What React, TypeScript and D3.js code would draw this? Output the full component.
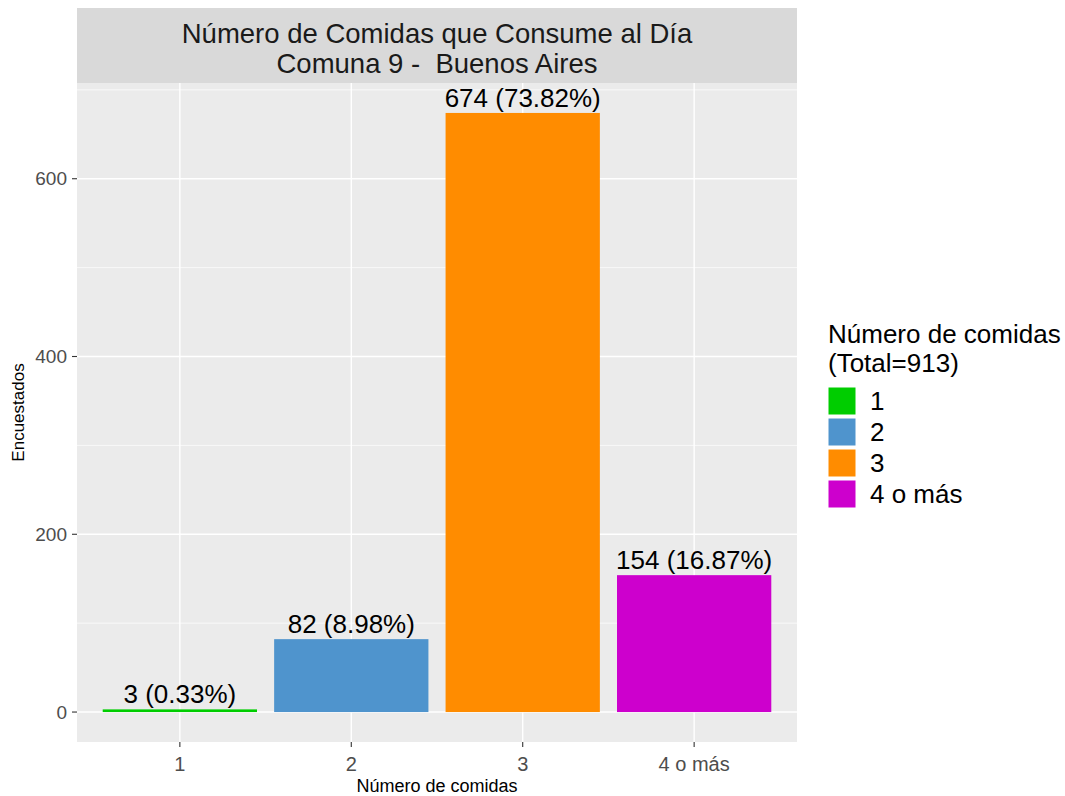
import React from "react";
import * as d3 from "d3";

const categories = ["1", "2", "3", "4 o más"];
const values = [3, 82, 674, 154];
const percents = ["0.33%", "8.98%", "73.82%", "16.87%"];
const colors = ["#00CD00", "#4F94CD", "#FF8C00", "#CD00CD"];
const yTicks = [0, 200, 400, 600];
const yMinor = [100, 300, 500, 700];
const total = 913;

const W = 1065, H = 796;
const panel = { left: 77, right: 797, top: 83, bottom: 742 };
const strip = { top: 8, bottom: 83 };
const font = "'Liberation Sans', Arial, sans-serif";

export default function App() {
  const maxV = d3.max(values) as number;
  const pad = maxV * 0.05;
  const y = d3.scaleLinear().domain([-pad, maxV + pad]).range([panel.bottom, panel.top]);
  const x = d3.scaleBand().domain(categories).range([panel.left, panel.right]).paddingInner(0.1).paddingOuter(0.15);
  const bw = x.bandwidth();
  const cx = (c: string) => (x(c) as number) + bw / 2;

  return (
    <svg width={W} height={H} style={{ position: "absolute", left: 0, top: 0, fontFamily: font }}>
      <rect x={0} y={0} width={W} height={H} fill="#ffffff" />
      {/* strip */}
      <rect x={panel.left} y={strip.top} width={panel.right - panel.left} height={strip.bottom - strip.top} fill="#D9D9D9" />
      <text x={(panel.left + panel.right) / 2} y={43} textAnchor="middle" fontSize={27.5} fill="#1A1A1A">Número de Comidas que Consume al Día</text>
      <text x={(panel.left + panel.right) / 2} y={73} textAnchor="middle" fontSize={27.5} fill="#1A1A1A" style={{ whiteSpace: "pre" }}>Comuna 9 -  Buenos Aires</text>
      {/* panel */}
      <rect x={panel.left} y={panel.top} width={panel.right - panel.left} height={panel.bottom - panel.top} fill="#EBEBEB" />
      {yMinor.map((t) => (
        <line key={"mn" + t} x1={panel.left} x2={panel.right} y1={y(t)} y2={y(t)} stroke="#ffffff" strokeWidth={0.7} />
      ))}
      {yTicks.map((t) => (
        <line key={"mj" + t} x1={panel.left} x2={panel.right} y1={y(t)} y2={y(t)} stroke="#ffffff" strokeWidth={1.4} />
      ))}
      {categories.map((c) => (
        <line key={"vx" + c} x1={cx(c)} x2={cx(c)} y1={panel.top} y2={panel.bottom} stroke="#ffffff" strokeWidth={1.4} />
      ))}
      {categories.map((c, i) => (
        <rect key={"b" + c} x={x(c)} y={y(values[i])} width={bw} height={y(0) - y(values[i])} fill={colors[i]} />
      ))}
      {categories.map((c, i) => (
        <text key={"l" + c} x={cx(c)} y={y(values[i]) - 6} textAnchor="middle" fontSize={26} fill="#000000">
          {`${values[i]} (${percents[i]})`}
        </text>
      ))}
      {/* y axis */}
      {yTicks.map((t) => (
        <g key={"yt" + t}>
          <line x1={panel.left - 5} x2={panel.left} y1={y(t)} y2={y(t)} stroke="#333333" strokeWidth={1.1} />
          <text x={panel.left - 10} y={y(t)} dy="0.35em" textAnchor="end" fontSize={19} fill="#4D4D4D">{t}</text>
        </g>
      ))}
      {categories.map((c) => (
        <g key={"xt" + c}>
          <line x1={cx(c)} x2={cx(c)} y1={panel.bottom} y2={panel.bottom + 5} stroke="#333333" strokeWidth={1.1} />
          <text x={cx(c)} y={771} textAnchor="middle" fontSize={20} fill="#4D4D4D">{c}</text>
        </g>
      ))}
      <text x={(panel.left + panel.right) / 2} y={792} textAnchor="middle" fontSize={18} fill="#000000">Número de comidas</text>
      <text transform={`translate(24, ${(panel.top + panel.bottom) / 2}) rotate(-90)`} textAnchor="middle" fontSize={17} fill="#000000">Encuestados</text>
      {/* legend */}
      <text x={828} y={343} fontSize={26} fill="#000000">Número de comidas</text>
      <text x={828} y={372} fontSize={26} fill="#000000">{`(Total=${total})`}</text>
      {categories.map((c, i) => (
        <g key={"lg" + c}>
          <rect x={828} y={387 + i * 31} width={28} height={28} fill={colors[i]} stroke="#ffffff" strokeWidth={1} />
          <text x={870} y={401 + i * 31} dy="0.35em" fontSize={26} fill="#000000">{c}</text>
        </g>
      ))}
    </svg>
  );
}
